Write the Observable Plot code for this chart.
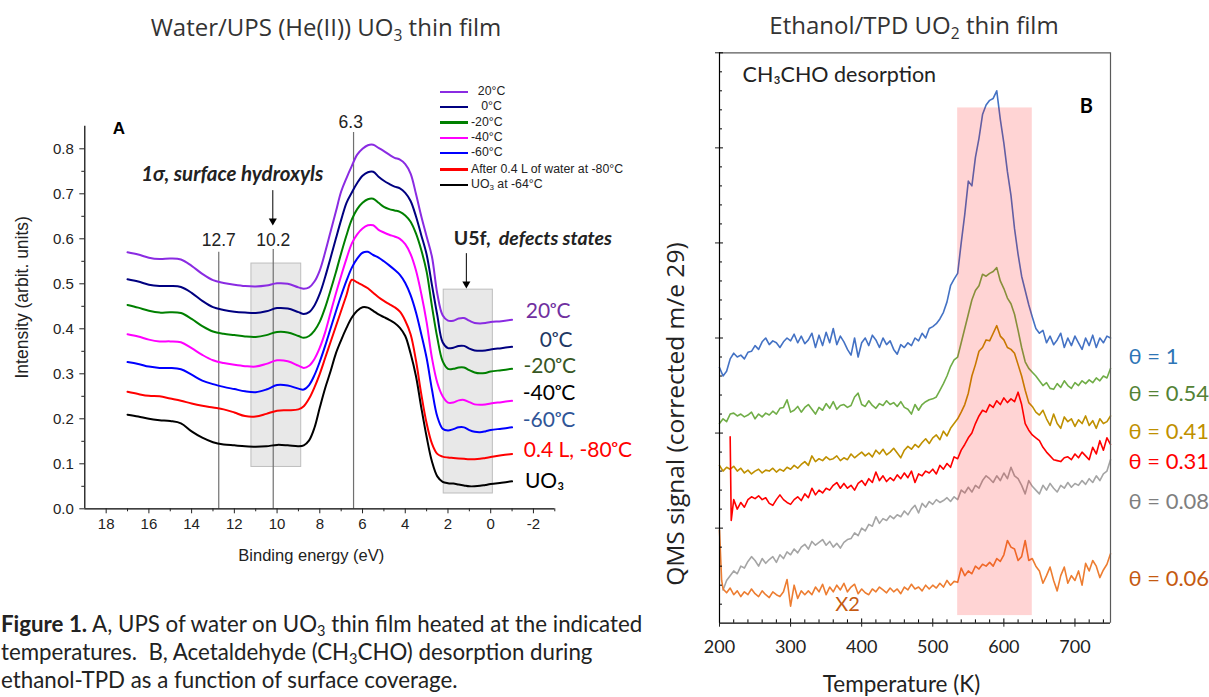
<!DOCTYPE html>
<html><head><meta charset="utf-8">
<script src="https://cdn.jsdelivr.net/npm/d3@7"></script>
<script src="https://cdn.jsdelivr.net/npm/@observablehq/plot@0.6"></script>
<style>
body{margin:0;background:#fff;width:1209px;height:697px;position:relative;overflow:hidden;}
.abs{position:absolute;white-space:pre;line-height:1;}
.ttl{font-family:'Open Sans',Lato,sans-serif;font-size:24px;color:#333;text-align:center;width:460px;}
.cap{font-family:Lato,'Open Sans',sans-serif;font-size:22.3px;color:#222;line-height:28px;}
.sub{font-size:0.65em;vertical-align:-0.3em;line-height:0;}
.leg{font-family:'Liberation Sans',Arial,sans-serif;font-size:12.3px;color:#222;line-height:14px;height:14px;}
.leg span.ln{display:inline-block;width:28px;height:2.5px;vertical-align:middle;margin-right:3px;}
</style></head><body>
<div id="A" class="abs" style="left:0;top:0"></div>
<div id="B" class="abs" style="left:640px;top:0"></div>
<div class="abs ttl" style="left:96px;top:15px">Water/UPS (He(II)) UO<span class="sub">3</span> thin film</div>
<div class="abs ttl" style="left:684px;top:13px">Ethanol/TPD UO<span class="sub">2</span> thin film</div>
<div id="legA"></div>
<div class="abs cap" style="left:1px;top:610px"><b>Figure 1.</b> A, UPS of water on UO<span class="sub">3</span> thin film heated at the indicated</div>
<div class="abs cap" style="left:1px;top:638px">temperatures.  B, Acetaldehyde (CH<span class="sub">3</span>CHO) desorption during</div>
<div class="abs cap" style="left:1px;top:666px">ethanol-TPD as a function of surface coverage.</div>
<script>
// ---------- Panel A data: UPS spectra ----------
const energy = [17,16.5,16,15.5,15,14.5,14,13.5,13,12.5,12,11.5,11,10.5,10,9.5,9,
  8.75,8.5,8.25,8,7.75,7.5,7.25,7,6.75,6.5,6.25,6,5.75,5.5,5.25,5,4.75,4.5,4.25,4,3.75,3.5,3.25,3,2.75,2.5,2.25,2,
  1.75,1.5,1.25,1,0.75,0.5,0.25,0,-0.5,-1];
const ups20 = [0.570,0.565,0.558,0.555,0.556,0.554,0.540,0.522,0.508,0.502,0.498,0.495,0.494,0.496,0.501,0.500,0.492,
  0.489,0.492,0.505,0.530,0.570,0.615,0.660,0.705,0.735,0.762,0.787,0.800,0.808,0.809,0.802,0.795,0.787,0.780,0.776,0.766,0.745,0.700,0.650,0.605,0.560,0.478,0.430,0.418,
  0.418,0.423,0.424,0.418,0.413,0.412,0.413,0.415,0.417,0.420];
const ups0 = [0.510,0.505,0.498,0.495,0.495,0.493,0.480,0.462,0.448,0.442,0.438,0.436,0.435,0.439,0.446,0.445,0.437,
  0.433,0.437,0.452,0.478,0.515,0.557,0.600,0.642,0.680,0.703,0.724,0.740,0.748,0.749,0.738,0.729,0.722,0.716,0.712,0.702,0.684,0.650,0.608,0.565,0.497,0.430,0.370,0.357,
  0.358,0.362,0.362,0.356,0.352,0.351,0.352,0.354,0.357,0.360];
const upsM20 = [0.453,0.447,0.440,0.436,0.437,0.435,0.422,0.406,0.394,0.389,0.386,0.383,0.382,0.386,0.393,0.392,0.384,
  0.380,0.384,0.396,0.416,0.447,0.485,0.525,0.568,0.608,0.643,0.666,0.680,0.688,0.689,0.680,0.671,0.666,0.663,0.660,0.652,0.638,0.612,0.575,0.527,0.450,0.380,0.328,0.311,
  0.311,0.314,0.314,0.308,0.303,0.301,0.302,0.305,0.308,0.311];
const upsM40 = [0.388,0.383,0.376,0.372,0.372,0.370,0.357,0.342,0.330,0.324,0.320,0.317,0.316,0.322,0.330,0.328,0.318,
  0.313,0.318,0.333,0.358,0.392,0.435,0.478,0.518,0.556,0.590,0.610,0.623,0.630,0.630,0.620,0.614,0.609,0.605,0.600,0.588,0.566,0.530,0.478,0.415,0.335,0.280,0.250,0.236,
  0.236,0.241,0.242,0.237,0.232,0.231,0.232,0.234,0.237,0.240];
const upsM60 = [0.326,0.322,0.316,0.313,0.313,0.310,0.298,0.285,0.277,0.271,0.266,0.261,0.259,0.265,0.275,0.274,0.267,
  0.265,0.275,0.297,0.327,0.362,0.400,0.438,0.474,0.507,0.536,0.556,0.569,0.571,0.564,0.558,0.550,0.541,0.531,0.520,0.502,0.475,0.437,0.388,0.335,0.265,0.205,0.178,0.174,
  0.177,0.181,0.181,0.175,0.171,0.170,0.172,0.175,0.178,0.181];
const upsWater = [0.260,0.255,0.251,0.250,0.245,0.240,0.234,0.229,0.225,0.221,0.214,0.206,0.205,0.211,0.218,0.219,0.221,
  0.228,0.245,0.270,0.300,0.335,0.370,0.405,0.440,0.475,0.509,0.503,0.497,0.490,0.480,0.470,0.462,0.455,0.448,0.438,0.418,0.388,0.330,0.255,0.190,0.145,0.122,0.116,0.114,
  0.113,0.112,0.111,0.110,0.110,0.111,0.113,0.115,0.119,0.122];
const upsUO3 = [0.209,0.205,0.200,0.197,0.195,0.190,0.172,0.158,0.148,0.143,0.141,0.139,0.138,0.139,0.142,0.141,0.139,
  0.141,0.152,0.180,0.225,0.268,0.305,0.345,0.375,0.402,0.425,0.440,0.448,0.447,0.440,0.432,0.426,0.420,0.413,0.402,0.384,0.345,0.295,0.225,0.160,0.105,0.072,0.060,0.057,
  0.056,0.054,0.052,0.050,0.050,0.051,0.053,0.055,0.058,0.061];
const seriesA = ["20°C","0°C","-20°C","-40°C","-60°C","After 0.4 L of water at -80°C","UO₃ at -64°C"];
const colorsA = ["#8a2be2","#000080","#008000","#ff00ff","#0000ff","#ff0000","#000000"];
const valuesA = [ups20, ups0, upsM20, upsM40, upsM60, upsWater, upsUO3];
const sideLabelsA = ["20ᵒC","0ᵒC","-20ᵒC","-40ᵒC","-60ᵒC","0.4 L, -80ᵒC","UO₃"];
const sideLabelColorsA = ["#7030a0","#1f3864","#385723","#000000","#2f5597","#ff0000","#000000"];
const xTicksA = [18,16,14,12,10,8,6,4,2,0,-2];
const xMinorA = [17,15,13,11,9,7,5,3,1,-1,-3];
const yTicksA = [0,0.1,0.2,0.3,0.4,0.5,0.6,0.7,0.8];
const yMinorA = [0.05,0.15,0.25,0.35,0.45,0.55,0.65,0.75];
const peakMarks = [12.7, 10.2, 6.3];

// ---------- Panel B data: TPD traces ----------
const tempK = [200,205,210,215,220,225,230,235,240,245,250,255,260,265,270,275,280,285,290,295,
  300,305,310,315,320,325,330,335,340,345,350,355,360,365,370,375,380,385,390,395,
  400,405,410,415,420,425,430,435,440,445,450,455,460,465,470,475,480,485,490,495,
  500,505,510,515,520,525,530,535,540,545,550,555,560,565,570,575,580,585,590,595,
  600,605,610,615,620,625,630,635,640,645,650,655,660,665,670,675,680,685,690,695,
  700,705,710,715,720,725,730,735,740,745,750];
const tpd100 = [2.69,2.6,2.65,2.78,2.84,2.8,2.82,2.78,2.85,2.86,
  2.92,2.88,2.96,3.0,2.93,2.97,2.95,2.9,2.96,3.0,
  2.97,3.04,2.95,3.02,2.94,2.98,3.05,2.9,3.03,2.92,
  3.06,2.95,3.1,2.93,3.02,2.96,2.88,2.82,3.0,2.8,
  2.95,3.0,2.92,3.03,2.98,2.9,3.0,2.93,2.97,2.88,
  2.83,2.93,2.9,2.95,2.92,3.0,2.97,3.05,3.0,3.1,
  3.12,3.15,3.2,3.27,3.38,3.55,3.62,3.68,4.0,4.3,
  4.65,4.6,4.9,5.1,5.35,5.45,5.5,5.52,5.6,5.3,
  5.05,4.75,4.5,4.15,3.88,3.65,3.5,3.35,3.22,3.1,
  3.05,3.08,2.95,3.02,2.93,2.98,3.05,2.9,3.0,2.92,
  3.02,2.95,2.88,3.0,2.92,3.03,2.9,3.0,2.95,3.02,3.0];
const tpd054 = [2.10,2.15,2.12,2.2,2.21,2.18,2.2,2.17,2.19,2.22,
  2.15,2.2,2.17,2.21,2.19,2.23,2.2,2.26,2.27,2.35,
  2.22,2.24,2.28,2.22,2.27,2.3,2.25,2.2,2.27,2.24,
  2.31,2.26,2.33,2.25,2.29,2.3,2.27,2.29,2.38,2.42,
  2.3,2.28,2.34,2.29,2.26,2.31,2.29,2.34,2.3,2.32,
  2.28,2.33,2.27,2.25,2.2,2.3,2.24,2.3,2.33,2.35,
  2.36,2.38,2.45,2.52,2.6,2.7,2.77,2.8,2.95,3.1,
  3.25,3.4,3.5,3.55,3.67,3.65,3.68,3.7,3.74,3.6,
  3.52,3.42,3.36,3.25,3.08,2.9,2.75,2.68,2.64,2.6,
  2.55,2.5,2.53,2.47,2.46,2.52,2.48,2.55,2.5,2.47,
  2.53,2.5,2.55,2.52,2.56,2.53,2.58,2.55,2.6,2.58,2.68];
const tpd041 = [1.66,1.6,1.64,1.62,1.65,1.6,1.63,1.58,1.61,1.57,
  1.6,1.62,1.58,1.61,1.6,1.63,1.59,1.62,1.6,1.64,
  1.62,1.66,1.63,1.67,1.7,1.66,1.76,1.7,1.73,1.71,
  1.75,1.72,1.73,1.76,1.71,1.74,1.72,1.78,1.74,1.77,
  1.8,1.76,1.79,1.75,1.82,1.78,1.83,1.77,1.8,1.84,
  1.79,1.74,1.82,1.86,1.83,1.88,1.85,1.9,1.94,1.89,
  1.95,1.98,1.93,2.02,1.97,2.05,2.1,2.15,2.22,2.3,
  2.42,2.6,2.72,2.86,2.9,2.98,2.97,3.05,3.13,3.02,
  2.98,2.9,2.88,2.84,2.72,2.6,2.45,2.32,2.28,2.22,
  2.19,2.24,2.15,2.08,2.2,2.1,2.05,2.17,2.12,2.15,
  2.07,2.14,2.1,2.18,2.08,2.13,2.05,2.15,2.1,2.12,2.18];
const tpd008 = [null,0.35,0.45,0.5,0.55,0.52,0.6,0.58,0.65,0.7,
  0.66,0.6,0.68,0.63,0.67,0.7,0.64,0.72,0.68,0.75,
  0.72,0.78,0.74,0.8,0.83,0.78,0.86,0.82,0.85,0.88,
  0.82,0.86,0.8,0.84,0.79,0.85,0.88,0.89,0.95,0.92,
  1.0,0.97,1.04,1.02,1.12,1.05,1.1,1.08,1.13,1.1,
  1.14,1.12,1.18,1.14,1.2,1.24,1.16,1.26,1.22,1.28,
  1.25,1.3,1.27,1.29,1.32,1.28,1.33,1.3,1.4,1.37,
  1.43,1.38,1.45,1.42,1.5,1.55,1.52,1.48,1.55,1.5,
  1.58,1.52,1.64,1.55,1.52,1.45,1.36,1.5,1.44,1.4,
  1.36,1.45,1.4,1.47,1.42,1.38,1.45,1.42,1.48,1.43,
  1.47,1.45,1.5,1.46,1.52,1.48,1.55,1.5,1.57,1.6,1.72];
const tempK031 = [215,216.5].concat(tempK.slice(4));
const tpd031 = [1.96,1.08,
  1.3,1.2,1.27,1.22,1.3,1.33,
  1.31,1.34,1.3,1.32,1.26,1.24,1.3,1.35,1.3,1.27,
  1.25,1.3,1.33,1.29,1.36,1.32,1.42,1.35,1.4,1.37,
  1.42,1.4,1.45,1.48,1.42,1.47,1.42,1.45,1.4,1.47,
  1.5,1.45,1.52,1.48,1.59,1.5,1.55,1.49,1.53,1.5,
  1.56,1.52,1.58,1.53,1.6,1.48,1.57,1.55,1.6,1.58,
  1.62,1.57,1.66,1.62,1.68,1.64,1.75,1.73,1.82,1.88,
  1.95,2.0,2.1,2.18,2.24,2.22,2.3,2.27,2.34,2.3,
  2.37,2.32,2.36,2.33,2.43,2.3,2.1,2.03,1.98,1.95,
  1.92,1.85,1.8,1.76,1.72,1.71,1.7,1.74,1.75,1.72,
  1.78,1.74,1.8,1.76,1.72,1.85,1.78,1.92,1.82,1.95,1.88];
const tempK006 = [200,203].concat(tempK.slice(1));
const tpd006 = [0.98,0.45,
  0.36,0.32,0.37,0.3,0.34,0.28,0.33,0.3,0.36,
  0.31,0.28,0.34,0.3,0.27,0.33,0.3,0.28,0.33,0.46,
  0.18,0.4,0.26,0.34,0.3,0.34,0.3,0.38,0.33,0.41,
  0.3,0.38,0.33,0.4,0.35,0.42,0.33,0.38,0.41,0.31,
  0.36,0.32,0.3,0.36,0.33,0.38,0.35,0.32,0.37,0.33,
  0.36,0.31,0.38,0.35,0.41,0.36,0.38,0.34,0.4,0.36,
  0.4,0.37,0.42,0.38,0.45,0.4,0.44,0.43,0.58,0.5,
  0.55,0.52,0.6,0.57,0.62,0.6,0.64,0.6,0.68,0.65,
  0.72,0.87,0.8,0.78,0.66,0.7,0.87,0.66,0.68,0.6,
  0.55,0.42,0.5,0.59,0.45,0.34,0.5,0.59,0.42,0.5,
  0.45,0.55,0.4,0.63,0.55,0.66,0.6,0.48,0.56,0.62,0.73];
const seriesB = ["θ = 1","θ = 0.54","θ = 0.41","θ = 0.31","θ = 0.08","θ = 0.06"];
const tempsB = [tempK, tempK, tempK, tempK031, tempK, tempK006];
const valuesB = [tpd100, tpd054, tpd041, tpd031, tpd008, tpd006];
const colorsB = ["#4472c4","#70ad47","#bf9000","#ff0000","#a5a5a5","#ed7d31"];
const labelColorsB = ["#2e75b6","#548235","#bf9000","#ff0000","#7f7f7f","#c55a11"];
const xTicksB = [200,300,400,500,600,700];
const xMinorB = [220,240,260,280,320,340,360,380,420,440,460,480,520,540,560,580,620,640,660,680,720,740];
const yTicksB = [1,2,3,4,5,6];
const yMinorB = [0.2,0.4,0.6,0.8,1.2,1.4,1.6,1.8,2.2,2.4,2.6,2.8,3.2,3.4,3.6,3.8,4.2,4.4,4.6,4.8,5.2,5.4,5.6,5.8];
const bandB = [{x1: 535, x2: 640, y1: 0.08, y2: 5.42}];

// ---------- Panel A chart ----------
const tidyA = seriesA.flatMap((s, k) => energy.map((e, i) => ({e, v: valuesA[k][i], s})));
const sansA = "'Liberation Sans', Arial, sans-serif";
const lato = "Lato, 'Open Sans', sans-serif";
const sideA = [
  {t: sideLabelsA[0], c: sideLabelColorsA[0], x: -1.64, y: 0.438},
  {t: sideLabelsA[1], c: sideLabelColorsA[1], x: -2.3, y: 0.375},
  {t: sideLabelsA[2], c: sideLabelColorsA[2], x: -1.53, y: 0.316},
  {t: sideLabelsA[3], c: sideLabelColorsA[3], x: -1.5, y: 0.256},
  {t: sideLabelsA[4], c: sideLabelColorsA[4], x: -1.5, y: 0.196},
  {t: sideLabelsA[5], c: sideLabelColorsA[5], x: -1.55, y: 0.13},
  {t: sideLabelsA[6], c: sideLabelColorsA[6], x: -1.6, y: 0.062}
];
const chartA = Plot.plot({
  width: 640, height: 580,
  marginLeft: 84.3, marginRight: 85.7, marginTop: 125.8, marginBottom: 71.7,
  x: {domain: [19, -3]},
  y: {domain: [0, 0.85]},
  color: {domain: seriesA, range: colorsA},
  style: {fontFamily: sansA, fontSize: "15px", color: "#222", background: "transparent", overflow: "visible"},
  marks: [
    Plot.rect([{x1: 11.2, x2: 8.87, y1: 0.093, y2: 0.545}, {x1: 2.2, x2: -0.1, y1: 0.034, y2: 0.487}],
      {x1: "x1", x2: "x2", y1: "y1", y2: "y2", fill: "#e8e8e8", stroke: "#bdbdbd", strokeWidth: 1}),
    Plot.ruleX([{x: 12.73, top: 0.57}, {x: 10.18, top: 0.576}, {x: 6.42, top: 0.836}],
      {x: "x", y1: 0, y2: "top", stroke: "#707070", strokeWidth: 1.2}),
    Plot.text([{x: 12.73, t: String(peakMarks[0])}, {x: 10.18, t: String(peakMarks[1])}],
      {x: "x", y: 0.596, text: "t", fontSize: 17.5, fill: "#222"}),
    Plot.text([{x: 6.55, t: String(peakMarks[2])}], {x: "x", y: 0.859, text: "t", fontSize: 17.5, fill: "#222"}),
    Plot.line(tidyA, {x: "e", y: "v", stroke: "s", z: "s", curve: "catmull-rom", strokeWidth: 2}),
    Plot.ruleY([0], {stroke: "#000", strokeWidth: 1.2}),
    Plot.ruleX([19], {stroke: "#000", strokeWidth: 1.2}),
    Plot.axisX({ticks: xTicksA, tickSize: 5, tickPadding: 5, tickFormat: d => String(d), fontSize: 15, label: null}),
    Plot.axisX({ticks: xMinorA, tickSize: 3, tickFormat: () => "", label: null}),
    Plot.axisY({ticks: yTicksA, tickSize: 5, tickPadding: 6, tickFormat: d3.format(".1f"), fontSize: 15, label: null}),
    Plot.axisY({ticks: yMinorA, tickSize: 3, tickFormat: () => "", label: null}),
    Plot.text(["Binding energy (eV)"], {x: 8.4, y: 0, dy: 47, text: d => d, fontSize: 16.5, fill: "#222"}),
    Plot.text(["Intensity (arbit. units)"], {x: 19, y: 0.47, dx: -62, rotate: -90, text: d => d, fontSize: 17.5, fill: "#222"}),
    Plot.text(["A"], {x: 17.4, y: 0.845, text: d => d, fontSize: 17, fontWeight: "bold", fill: "#000"}),
    // arrows
    Plot.ruleX([10.2], {y1: 0.707, y2: 0.64, stroke: "#000", strokeWidth: 1}),
    Plot.dot([10.2], {x: d => d, y: 0.64, symbol: "triangle", rotate: 180, r: 3, fill: "#000", stroke: null}),
    Plot.ruleX([1.14], {y1: 0.567, y2: 0.5, stroke: "#000", strokeWidth: 1}),
    Plot.dot([1.14], {x: d => d, y: 0.5, symbol: "triangle", rotate: 180, r: 3, fill: "#000", stroke: null}),
    Plot.text(["1σ, surface hydroxyls"], {x: 12.1, y: 0.744, text: d => d, fontSize: 20.5, fontWeight: "bold", fontStyle: "italic", fontFamily: lato, fill: "#222"}),
    Plot.text(["U5f,"], {x: 1.73, y: 0.6, text: d => d, textAnchor: "start", fontSize: 19.5, fontWeight: "bold", fontFamily: lato, fill: "#222"}),
    Plot.text(["defects states"], {x: -0.38, y: 0.6, text: d => d, textAnchor: "start", fontSize: 19.5, fontWeight: "bold", fontStyle: "italic", fontFamily: lato, fill: "#222"}),
    Plot.text(sideA, {x: "x", y: "y", text: "t", fill: "c", textAnchor: "start", fontSize: 21, fontFamily: lato})
  ]
});
document.getElementById("A").appendChild(chartA);

// legend for panel A
const leg = document.getElementById("legA");
const legY = [91, 106, 121.5, 137, 152, 168.5, 184];
const legPad = ["  ", "   ", "", "", "", "", ""];
seriesA.forEach((s, i) => {
  const d = document.createElement("div");
  d.className = "abs leg";
  d.style.left = "440px";
  d.style.top = (legY[i] - 7) + "px";
  d.innerHTML = `<span class="ln" style="background:${colorsA[i]}"></span>` + legPad[i] +
    s.replace("UO₃", 'UO<span class="sub">3</span>');
  leg.appendChild(d);
});

// ---------- Panel B chart ----------
const tidyB = seriesB.flatMap((s, k) => tempsB[k].map((t, i) => ({t, v: valuesB[k][i], s})));
const labelY = [2.8, 2.415, 2.01, 1.695, 1.274, 0.47];
const labB = seriesB.map((s, i) => ({s, c: labelColorsB[i], y: labelY[i]}));
const chartB = Plot.plot({
  width: 569, height: 697,
  marginLeft: 79, marginRight: 99, marginTop: 52.3, marginBottom: 74.3,
  x: {domain: [200, 750]},
  y: {domain: [0, 6]},
  color: {domain: seriesB, range: colorsB},
  style: {fontFamily: lato, fontSize: "17px", color: "#222", background: "transparent", overflow: "visible"},
  marks: [
    Plot.line(tidyB, {x: "t", y: "v", stroke: "s", z: "s", strokeWidth: 1.6}),
    Plot.rect(bandB, {x1: "x1", x2: "x2", y1: "y1", y2: "y2", fill: "#ff0000", fillOpacity: 0.17}),
    Plot.ruleX([750], {stroke: "#5a5a5a", strokeWidth: 1.2}),
    Plot.ruleY([6], {stroke: "#5a5a5a", strokeWidth: 1.2}),
    Plot.ruleX([200], {stroke: "#000", strokeWidth: 1.2}),
    Plot.ruleY([0], {stroke: "#000", strokeWidth: 1.2}),
    Plot.axisX({ticks: xTicksB, tickSize: 4, tickPadding: 13, tickFormat: d => String(d), fontSize: 18, label: null}),
    Plot.ruleX(xTicksB, {y1: 0, y2: 0.045, stroke: "#000"}),
    Plot.ruleX(xMinorB, {y1: 0, y2: 0.035, stroke: "#000"}),
    Plot.axisY({ticks: yTicksB, tickSize: 4, tickFormat: () => "", label: null}),
    Plot.ruleY(yTicksB, {x1: 200, x2: 205.6, stroke: "#000"}),
    Plot.ruleY(yMinorB, {x1: 200, x2: 204.2, stroke: "#000"}),
    Plot.text(["Temperature (K)"], {x: 456, y: 0, dy: 62, text: d => d, fontSize: 22.5, fill: "#222"}),
    Plot.text(["QMS signal (corrected m/e 29)"], {x: 200, y: 2.2, dx: -43, rotate: -90, text: d => d, fontSize: 24.5, fontFamily: "'Open Sans', Lato, sans-serif", fill: "#222"}),
    Plot.text(["CH₃CHO desorption"], {x: 232.5, y: 5.765, text: d => d, textAnchor: "start", fontSize: 21.5, fill: "#222"}),
    Plot.text(["B"], {x: 716, y: 5.43, text: d => d, fontSize: 20, fontWeight: "bold", fill: "#000"}),
    Plot.text(["X2"], {x: 380, y: 0.197, text: d => d, fontSize: 20, fill: "#c55a11"}),
    Plot.text(labB, {x: 750, dx: 18, y: "y", text: "s", fill: "c", textAnchor: "start", fontSize: 22})
  ]
});
document.getElementById("B").appendChild(chartB);
</script>
</body></html>
